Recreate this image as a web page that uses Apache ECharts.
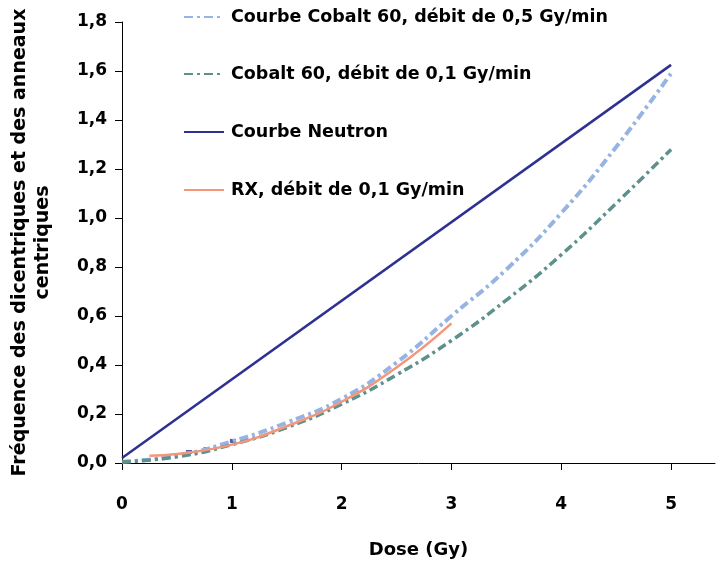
<!DOCTYPE html>
<html>
<head>
<meta charset="utf-8">
<script src="https://cdn.jsdelivr.net/npm/echarts@6/dist/echarts.min.js"></script>
<style>
  html, body { margin: 0; padding: 0; background: #fff; }
  #main { width: 718px; height: 565px; }
</style>
</head>
<body>
<div id="main"></div>
<script>
// doses (Gy)
const doses = [0, 0.5, 1, 1.5, 2, 2.5, 3, 3.5, 4, 4.5, 5]
const cobalt05 = [0.005, 0.03, 0.088, 0.165, 0.262, 0.41, 0.6, 0.79, 1.02, 1.29, 1.59]
const cobalt01 = [0.005, 0.025, 0.075, 0.145, 0.24, 0.36, 0.5, 0.665, 0.85, 1.06, 1.28]
const neutronDose = [0, 5]
const neutron = [0.02, 1.625]
const rxDose = [0.25, 0.5, 1, 1.5, 2, 2.5, 3]
const rx = [0.03, 0.037, 0.075, 0.15, 0.25, 0.39, 0.57]
const neutronPtsDose = [0.61, 0.77, 1.01]
const neutronPts = [0.045, 0.057, 0.09]
const xTicks = [0, 1, 2, 3, 4, 5]

const pairs = (xs, ys) => xs.map((x, i) => [x, ys[i]])
const font = '"DejaVu Sans", sans-serif'

const names = [
    'Courbe Cobalt 60, débit de 0,5 Gy/min',
    'Cobalt 60, débit de 0,1 Gy/min',
    'Courbe Neutron',
    'RX, débit de 0,1 Gy/min'
]
const legendTops = [3, 60, 118, 176]

const myChart = echarts.init(document.getElementById('main'))
myChart.setOption({
    animation: false,
    textStyle: { fontFamily: font },
    grid: { left: 122, right: 3, top: 22, bottom: 102, containLabel: false, outerBoundsMode: 'none' },
    legend: names.map((n, i) => ({
        data: [n],
        left: 178,
        top: legendTops[i],
        itemWidth: 40,
        itemHeight: 14,
        itemGap: 0,
        itemStyle: { opacity: 0 },
        textStyle: { fontSize: 17.5, fontWeight: 'bold', color: '#000', fontFamily: font, padding: [0, 0, 0, 2] }
    })),
    xAxis: {
        type: 'value',
        min: 0,
        max: 5.4,
        name: 'Dose (Gy)',
        nameLocation: 'middle',
        nameGap: 78,
        nameTextStyle: { fontSize: 18, fontWeight: 'bold', color: '#000' },
        axisLine: { lineStyle: { color: '#000', width: 1 } },
        axisTick: { show: true, inside: false, length: 7, customValues: xTicks, lineStyle: { color: '#000' } },
        axisLabel: { customValues: xTicks, margin: 33, fontSize: 17, fontWeight: 'bold', color: '#000' },
        splitLine: { show: false }
    },
    yAxis: {
        type: 'value',
        min: 0,
        max: 1.8,
        interval: 0.2,
        name: 'Fréquence des dicentriques et des anneaux\ncentriques',
        nameLocation: 'middle',
        nameGap: 67,
        nameTextStyle: { fontSize: 19, fontWeight: 'bold', color: '#000', lineHeight: 23 },
        axisLine: { show: true, lineStyle: { color: '#000', width: 1 } },
        axisTick: { show: true, inside: false, length: 7, lineStyle: { color: '#000' } },
        axisLabel: {
            margin: 15,
            fontSize: 17,
            fontWeight: 'bold',
            color: '#000',
            formatter: v => v.toFixed(1).replace('.', ',')
        },
        splitLine: { show: false }
    },
    series: [
        {
            name: names[0],
            type: 'line',
            smooth: true,
            symbol: 'none',
            data: pairs(doses, cobalt05),
            lineStyle: { color: '#95b3e3', width: 4, type: [9, 4, 3, 4] },
            itemStyle: { color: '#95b3e3' },
            z: 3
        },
        {
            name: names[1],
            type: 'line',
            smooth: true,
            symbol: 'none',
            data: pairs(doses, cobalt01),
            lineStyle: { color: '#5c918c', width: 3.5, type: [9, 4, 3, 4] },
            itemStyle: { color: '#5c918c' },
            z: 3
        },
        {
            name: names[2],
            type: 'line',
            symbol: 'none',
            data: pairs(neutronDose, neutron),
            lineStyle: { color: '#2e3192', width: 2.5 },
            itemStyle: { color: '#2e3192' },
            z: 4
        },
        {
            name: names[3],
            type: 'line',
            smooth: true,
            symbol: 'none',
            data: pairs(rxDose, rx),
            lineStyle: { color: '#f5957a', width: 2.5 },
            itemStyle: { color: '#f5957a' },
            z: 5
        },
        {
            name: 'points neutron',
            type: 'scatter',
            symbol: 'rect',
            symbolSize: [6, 4],
            data: pairs(neutronPtsDose, neutronPts),
            itemStyle: { color: '#2e3192' },
            z: 2
        }
    ]
})
</script>
</body>
</html>
